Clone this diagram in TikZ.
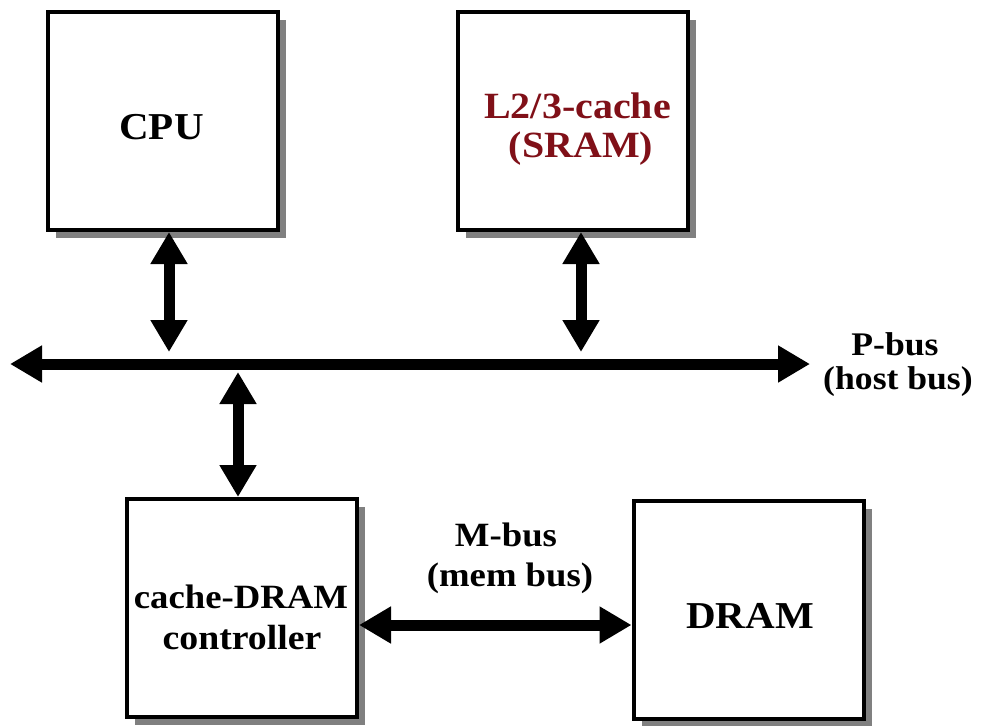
\documentclass[tikz,border=0pt]{standalone}
\usepackage{fontspec}
\setmainfont{Liberation Serif}[FakeStretch=1.08]
\usetikzlibrary{arrows.meta,shadows}
\definecolor{cachered}{RGB}{128,16,24}
\definecolor{shadowgray}{RGB}{128,128,128}
\tikzset{
  unitbox/.style={draw=black, line width=4pt, fill=white,
    minimum width=230pt, minimum height=218pt, inner sep=0pt,
    drop shadow={shadow xshift=8pt, shadow yshift=-8pt, fill=shadowgray, opacity=1}},
  lbl/.style={inner sep=0pt, anchor=base, font=\bfseries},
  busarrow/.style={line width=11pt, {Triangle[length=32pt,width=35pt]}-{Triangle[length=32pt,width=35pt]}}
}
\newcommand{\fsz}[1]{\fontsize{#1}{#1}\selectfont}
\begin{document}
\begin{tikzpicture}[x=1pt, y=-1pt]
\useasboundingbox (0,0) rectangle (981,725);

% functional units
\node[unitbox] (cpu)  at (163,121) {};
\node[unitbox] (l2)   at (573,121) {};
\node[unitbox] (ctrl) at (242,608) {};
\node[unitbox] (dram) at (748.5,610) {};

% unit captions
\node[lbl] (cpuT) at (161.5,139) {\fsz{38}CPU};
\node[lbl, text=cachered] (l2a) at (577.5,118) {\fsz{37}L2/3-cache};
\node[lbl, text=cachered] (l2b) at (581,157) {\fsz{37}(SRAM)};
\node[lbl] (ctrlA) at (241,608) {\fsz{34}cache-DRAM};
\node[lbl] (ctrlB) at (242,649) {\fsz{35}controller};
\node[lbl] (dramT) at (750,628) {\fsz{38}DRAM};

% host bus
\coordinate (pbL) at (10,364);
\coordinate (pbR) at (810,364);
\draw[busarrow] (pbL) -- (pbR);
\node[lbl] (pbA) at (895,355) {\fsz{33}P-bus};
\node[lbl] (pbB) at (898,389) {\fsz{33}(host bus)};

% taps onto the host bus
\coordinate (cpuTap)  at (169,352);
\coordinate (l2Tap)   at (581,352);
\coordinate (ctrlTap) at (238,372);
\draw[busarrow] ([xshift=6pt]cpu.south) -- (cpuTap);
\draw[busarrow] ([xshift=8pt]l2.south) -- (l2Tap);
\draw[busarrow] (ctrlTap) -- ([xshift=-4pt]ctrl.north);

% memory bus
\coordinate (mb) at (500,625);
\draw[busarrow] (ctrl.east |- mb) -- (dram.west |- mb);
\node[lbl] (mbA) at (506,546) {\fsz{34}M-bus};
\node[lbl] (mbB) at (510,586) {\fsz{34}(mem bus)};
\end{tikzpicture}
\end{document}
